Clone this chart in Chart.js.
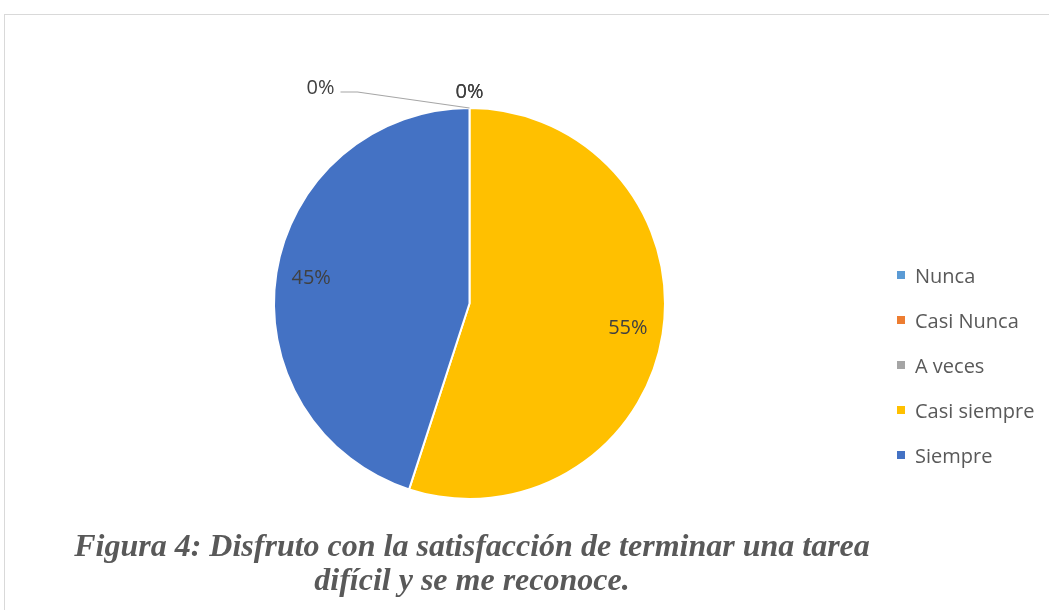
<!DOCTYPE html>
<html>
<head>
<meta charset="utf-8">
<script src="https://cdn.jsdelivr.net/npm/chart.js@4.4.1/dist/chart.umd.min.js"></script>
<style>
  body { margin: 0; background: #fff; width: 1049px; height: 610px; overflow: hidden; position: relative; }
  #frame { position: absolute; left: 4px; top: 14px; width: 1100px; height: 700px; border: 1px solid #d9d9d9; }
  #wrap { position: absolute; left: 0; top: 0; width: 939px; height: 607px; }
  #legend { position: absolute; left: 897px; top: 262px; font-family: "Open Sans", "Noto Sans", sans-serif; font-size: 20px; color: #595959; }
  #legend div { height: 45px; line-height: 28px; white-space: nowrap; }
  #legend span { display: inline-block; width: 8px; height: 8px; margin-right: 10px; vertical-align: 4px; }
  #caption { position: absolute; left: 0; top: 528px; width: 944px; text-align: center;
    font-family: "Liberation Serif", "Times New Roman", serif; font-weight: bold; font-style: italic;
    font-size: 32px; line-height: 34px; color: #595959; }
</style>
</head>
<body>
<div id="frame"></div>
<div id="wrap"><canvas id="chart"></canvas></div>
<div id="legend"></div>
<div id="caption">Figura 4: Disfruto con la satisfacción de terminar una tarea<br>difícil y se me reconoce.</div>
<script>
const categories = ['Nunca', 'Casi Nunca', 'A veces', 'Casi siempre', 'Siempre'];
const values = [0, 0, 0, 55, 45];
const colors = ['#5B9BD5', '#ED7D31', '#A5A5A5', '#FFC000', '#4472C4'];

const legendElement = document.getElementById('legend');
categories.forEach(function (name, i) {
    const row = document.createElement('div');
    row.innerHTML = '<span style="background:' + colors[i] + '"></span>' + name;
    legendElement.appendChild(row);
});

// percentage labels, zero slices stacked at the top like the original
const labelPlugin = {
    id: 'sliceLabels',
    afterDatasetsDraw(chart) {
        const ctx = chart.ctx;
        const meta = chart.getDatasetMeta(0);
        const total = values.reduce((a, b) => a + b, 0);
        let zeroCount = 0;
        ctx.save();
        ctx.font = '20px "Open Sans", "Noto Sans", sans-serif';
        ctx.fillStyle = '#404040';
        ctx.textAlign = 'center';
        ctx.textBaseline = 'middle';
        meta.data.forEach(function (arc, i) {
            const p = arc.getProps(['x', 'y', 'startAngle', 'endAngle', 'outerRadius']);
            const text = Math.round(values[i] / total * 100) + '%';
            if (values[i] === 0) {
                const topX = p.x + Math.cos(p.startAngle) * p.outerRadius;
                const topY = p.y + Math.sin(p.startAngle) * p.outerRadius;
                if (zeroCount < 2) {
                    ctx.fillText(text, topX, topY - 16);
                } else {
                    ctx.strokeStyle = '#a6a6a6';
                    ctx.lineWidth = 1.2;
                    ctx.beginPath();
                    ctx.moveTo(topX, topY);
                    ctx.lineTo(topX - 112, topY - 16);
                    ctx.lineTo(topX - 129, topY - 16);
                    ctx.stroke();
                    ctx.fillText(text, topX - 149, topY - 20);
                }
                zeroCount++;
                return;
            }
            const mid = (p.startAngle + p.endAngle) / 2;
            const r = p.outerRadius * 0.82;
            ctx.fillText(text, p.x + Math.cos(mid) * r, p.y + Math.sin(mid) * r);
        });
        ctx.restore();
    }
};

new Chart(document.getElementById('chart'), {
    type: 'pie',
    data: {
        labels: categories,
        datasets: [{
            data: values,
            backgroundColor: colors,
            borderColor: '#ffffff',
            borderWidth: 2,
            hoverOffset: 0
        }]
    },
    options: {
        animation: false,
        events: [],
        responsive: true,
        maintainAspectRatio: false,
        layout: { padding: { top: 107, bottom: 107 } },
        plugins: {
            legend: { display: false },
            tooltip: { enabled: false }
        }
    },
    plugins: [labelPlugin]
});
</script>
</body>
</html>
